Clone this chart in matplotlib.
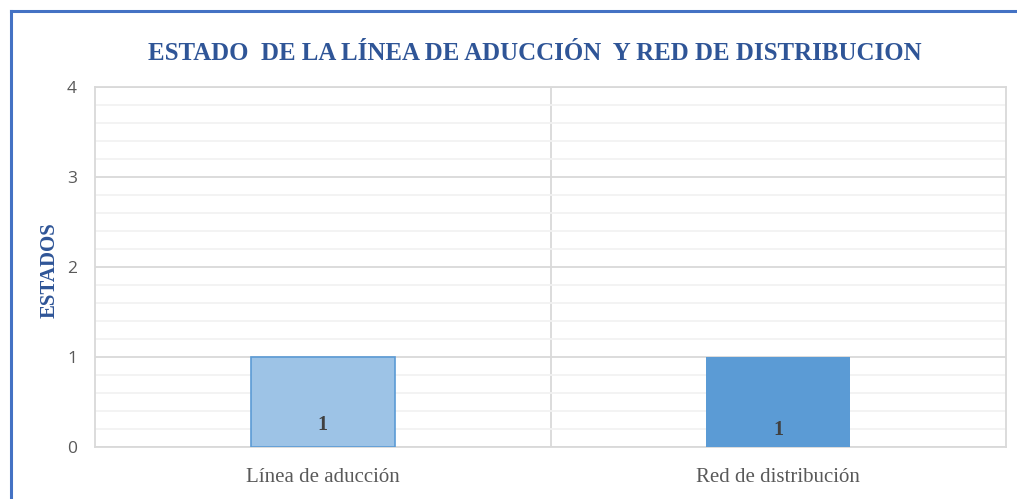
import matplotlib
matplotlib.use("Agg")
import matplotlib.pyplot as plt
from matplotlib.lines import Line2D
import numpy as np

categories = ["Línea de aducción", "Red de distribución"]
values = [1, 1]
bar_colors = ["#9DC3E6", "#5B9BD5"]
title = "ESTADO  DE LA LÍNEA DE ADUCCIÓN  Y RED DE DISTRIBUCION"
ylabel = "ESTADOS"
yticks = [0, 1, 2, 3, 4]

fig = plt.figure(figsize=(10.17, 4.99), dpi=100)
ax = fig.add_axes([95/1017, 52/499, 911/1017, 360/499])

x = np.arange(len(categories))
bars = ax.bar(x, values, width=0.316, color=bar_colors, zorder=3)
bars[0].set_edgecolor("#5B9BD5")
bars[0].set_linewidth(1.2)
bars[1].set_edgecolor("none")

ax.set_xlim(-0.5, 1.5)
ax.set_ylim(0, 4)
ax.set_yticks(yticks)
ax.set_yticks(np.arange(0, 4.01, 0.2), minor=True)
ax.set_xticks(x)
ax.set_xticklabels(categories, family="Liberation Serif", fontsize=15, color="#595959")
ax.set_yticklabels([str(t) for t in yticks], family="Open Sans", fontsize=12.5, color="#595959")
ax.tick_params(axis="both", which="both", length=0)
ax.tick_params(axis="y", pad=13)
ax.tick_params(axis="x", pad=15)

ax.grid(axis="y", which="minor", color="#f2f2f2", linewidth=1.3, zorder=0)
ax.grid(axis="y", which="major", color="#d9d9d9", linewidth=1.3, zorder=1)
ax.axvline(0.5, color="#d9d9d9", linewidth=1.3, zorder=1)
for s in ax.spines.values():
    s.set_color("#d9d9d9")
    s.set_linewidth(1.3)

offsets = [16, 12.5]
for xi, v, off in zip(x, values, offsets):
    ax.annotate(str(v), xy=(xi, 0), xytext=(0, off), textcoords="offset points",
                ha="center", va="center", family="Liberation Serif", fontweight="bold",
                fontsize=14.5, color="#404040", zorder=4)

fig.text(535/1017, 1 - 53/499, title, ha="center", va="center",
         family="Liberation Serif", fontweight="bold", fontsize=17.9, color="#2F5597")
fig.text(50/1017, 1 - 270/499, ylabel, ha="center", va="center", rotation=90,
         family="Liberation Serif", fontweight="bold", fontsize=15, color="#2F5597")

# outer chart frame (partially visible)
fig.add_artist(Line2D([10.5/1017, 10.5/1017], [0, 1 - 11/499], color="#4472C4", linewidth=2.2,
                      transform=fig.transFigure))
fig.add_artist(Line2D([10.5/1017, 1], [1 - 11/499, 1 - 11/499], color="#4472C4", linewidth=2.2,
                      transform=fig.transFigure))

fig.savefig("out.png", dpi=100)
